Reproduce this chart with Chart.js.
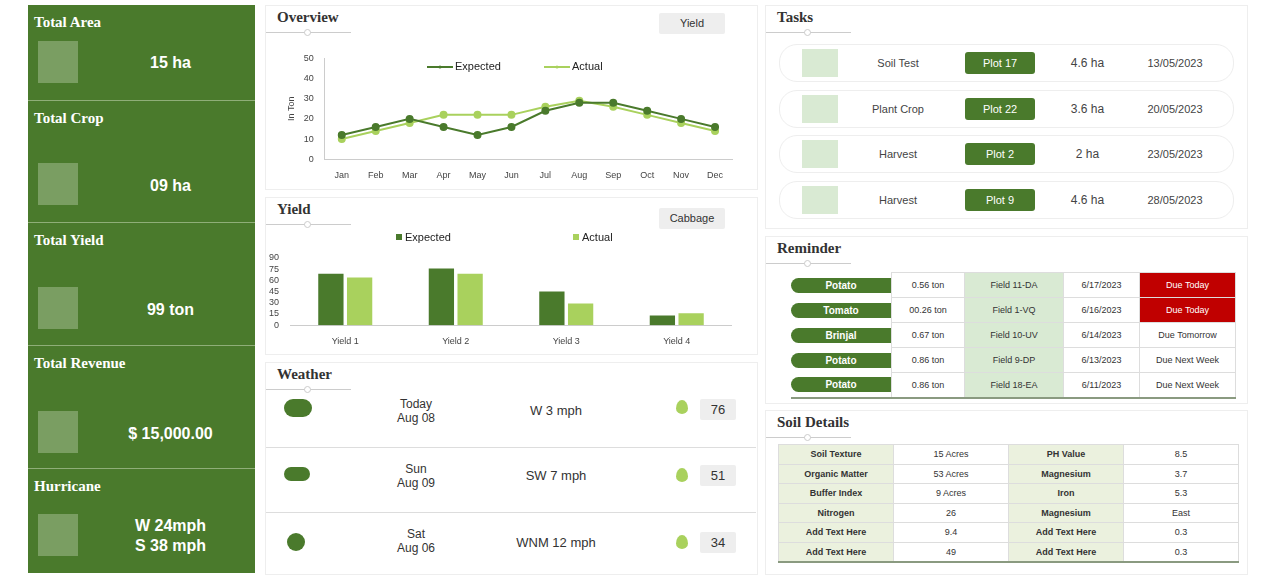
<!DOCTYPE html>
<html><head><meta charset="utf-8">
<script src="https://cdn.jsdelivr.net/npm/chart.js@4/dist/chart.umd.min.js"></script>
<style>
body{margin:0;width:1270px;height:580px;background:#fff;font-family:Arial,"Liberation Sans",sans-serif;position:relative;overflow:hidden}
.a{position:absolute}
.side{left:28px;top:5px;width:227px;height:568px;background:#4a7a2c}
.sec{position:absolute;left:0;width:227px;border-bottom:1px solid #8fae78;color:#fff}
.sec .t{position:absolute;left:6px;top:9px;font:bold 15px "Liberation Serif",serif}
.sec .ic{position:absolute;left:10px;width:40px;height:42px;background:#7a9e62}
.sec .v{position:absolute;left:80px;width:125px;text-align:center;font:bold 16px Arial}
.panel{position:absolute;border:1px solid #eee;background:#fff}
.ptitle{position:absolute;left:11px;top:3px;font:bold 15px "Liberation Serif",serif;color:#333}
.pline{position:absolute;left:0;top:26px;width:85px;border-top:1px solid #ccc}
.pdot{position:absolute;left:38px;top:23px;width:5px;height:5px;border:1px solid #ccc;border-radius:50%;background:#fff}
.btn{position:absolute;background:#eee;font:11px Arial;color:#333;text-align:center;line-height:21px;height:21px;border-radius:2px}
.wrow{position:absolute;left:0;width:490px;height:64px;border-bottom:1px solid #ddd;font:13px Arial;color:#333}
.task{position:absolute;left:13px;width:453px;height:36px;border:1px solid #eee;border-radius:18px;font:11px Arial;color:#444}
.task div{position:absolute;top:0;line-height:36px;text-align:center}
table{border-collapse:collapse;position:absolute}
td{font:9px Arial;color:#333;text-align:center;padding:0}
</style></head><body>
<div class="a side">
 <div class="sec" style="top:0;height:95px"><div class="t">Total Area</div><div class="ic" style="top:36px"></div><div class="v" style="top:49px">15 ha</div></div>
 <div class="sec" style="top:96px;height:121px"><div class="t">Total Crop</div><div class="ic" style="top:62px"></div><div class="v" style="top:76px">09 ha</div></div>
 <div class="sec" style="top:218px;height:122px"><div class="t">Total Yield</div><div class="ic" style="top:64px"></div><div class="v" style="top:78px">99 ton</div></div>
 <div class="sec" style="top:341px;height:122px"><div class="t">Total Revenue</div><div class="ic" style="top:65px"></div><div class="v" style="top:79px">$ 15,000.00</div></div>
 <div class="sec" style="top:464px;height:104px;border:none"><div class="t">Hurricane</div><div class="ic" style="top:45px"></div><div class="v" style="top:47px;line-height:20px">W 24mph<br>S 38 mph</div></div>
</div>

<div class="panel" style="left:265px;top:5px;width:491px;height:183px">
 <div class="ptitle">Overview</div><div class="pline"></div><div class="pdot"></div>
 <div class="btn" style="left:393px;top:7px;width:66px">Yield</div>
</div>
<div class="a" style="left:282px;top:50px;width:456px;height:134px"><canvas id="c1"></canvas></div>

<div class="panel" style="left:265px;top:197px;width:491px;height:156px">
 <div class="ptitle">Yield</div><div class="pline"></div><div class="pdot"></div>
 <div class="btn" style="left:393px;top:10px;width:66px">Cabbage</div>
</div>
<div class="a" style="left:266px;top:228px;width:466px;height:122px"><canvas id="c2"></canvas></div>

<div class="panel" style="left:265px;top:362px;width:491px;height:211px">
 <div class="ptitle">Weather</div><div class="pline"></div><div class="pdot"></div>
 <div class="wrow" style="top:20px"><div class="a" style="left:18px;top:16px;width:28px;height:18px;background:#4a7a2c;border-radius:9px"></div>
  <div class="a" style="left:100px;top:14px;width:100px;text-align:center;font-size:12px">Today<br>Aug 08</div><div class="a" style="left:240px;top:20px;width:100px;text-align:center">W 3 mph</div>
  <div class="a" style="left:410px;top:17px;width:12px;height:14px;background:#a9d15d;border-radius:50% 50% 50% 50%/60% 60% 40% 40%"></div><div class="btn" style="left:434px;top:16px;width:36px;font-size:13px">76</div></div>
 <div class="wrow" style="top:85px"><div class="a" style="left:18px;top:19px;width:26px;height:14px;background:#4a7a2c;border-radius:7px"></div>
  <div class="a" style="left:100px;top:14px;width:100px;text-align:center;font-size:12px">Sun<br>Aug 09</div><div class="a" style="left:240px;top:20px;width:100px;text-align:center">SW 7 mph</div>
  <div class="a" style="left:410px;top:20px;width:12px;height:14px;background:#a9d15d;border-radius:50% 50% 50% 50%/60% 60% 40% 40%"></div><div class="btn" style="left:434px;top:17px;width:36px;font-size:13px">51</div></div>
 <div class="wrow" style="top:150px;border:none"><div class="a" style="left:21px;top:20px;width:18px;height:18px;background:#4a7a2c;border-radius:50%"></div>
  <div class="a" style="left:100px;top:14px;width:100px;text-align:center;font-size:12px">Sat<br>Aug 06</div><div class="a" style="left:240px;top:22px;width:100px;text-align:center">WNM 12 mph</div>
  <div class="a" style="left:410px;top:22px;width:12px;height:14px;background:#a9d15d;border-radius:50% 50% 50% 50%/60% 60% 40% 40%"></div><div class="btn" style="left:434px;top:19px;width:36px;font-size:13px">34</div></div>
</div>

<div class="panel" style="left:765px;top:5px;width:481px;height:222px" id="tasks">
 <div class="ptitle">Tasks</div><div class="pline"></div><div class="pdot"></div>
</div>

<div class="panel" style="left:765px;top:236px;width:481px;height:166px">
 <div class="ptitle">Reminder</div><div class="pline"></div><div class="pdot"></div>
</div>
<table id="rem" style="left:791px;top:272px"></table>

<div class="panel" style="left:765px;top:410px;width:481px;height:163px">
 <div class="ptitle">Soil Details</div><div class="pline"></div><div class="pdot"></div>
</div>
<table id="soil" style="left:778px;top:444px;border-bottom:2px solid #8a9a80"></table>

<script>
const months=["Jan","Feb","Mar","Apr","May","Jun","Jul","Aug","Sep","Oct","Nov","Dec"];
const expectedMonthly=[12,16,20,16,12,16,24,28,28,24,20,16];
const actualMonthly=[10,14,18,22,22,22,26,29,26,22,18,14];
const yieldLabels=["Yield 1","Yield 2","Yield 3","Yield 4"];
const expectedYield=[69,76,45,13];
const actualYield=[64,69,29,16];
const taskNames=["Soil Test","Plant Crop","Harvest","Harvest"];
const taskPlots=["Plot 17","Plot 22","Plot 2","Plot 9"];
const taskAreas=["4.6 ha","3.6 ha","2 ha","4.6 ha"];
const taskDates=["13/05/2023","20/05/2023","23/05/2023","28/05/2023"];
const remCrops=["Potato","Tomato","Brinjal","Potato","Potato"];
const remQty=["0.56 ton","00.26 ton","0.67 ton","0.86 ton","0.86 ton"];
const remField=["Field 11-DA","Field 1-VQ","Field 10-UV","Field 9-DP","Field 18-EA"];
const remDate=["6/17/2023","6/16/2023","6/14/2023","6/13/2023","6/11/2023"];
const remDue=["Due Today","Due Today","Due Tomorrow","Due Next Week","Due Next Week"];
const soilRows=[["Soil Texture","15 Acres","PH Value","8.5"],["Organic Matter","53 Acres","Magnesium","3.7"],["Buffer Index","9 Acres","Iron","5.3"],["Nitrogen","26","Magnesium","East"],["Add Text Here","9.4","Add Text Here","0.3"],["Add Text Here","49","Add Text Here","0.3"]];
const DG="#4a7a2c",LG="#a9d15d";

const tk=document.getElementById('tasks');
taskNames.forEach((n,i)=>{const d=document.createElement('div');d.className='task';d.style.top=(38+i*45.5)+'px';
d.innerHTML=`<div style="left:22px;top:4px;width:36px;height:28px;background:#d9ead3;line-height:28px"></div><div style="left:70px;width:96px">${n}</div>
<div style="left:185px;top:7px;width:70px;height:22px;line-height:22px;background:${DG};color:#fff;border-radius:3px">${taskPlots[i]}</div>
<div style="left:270px;width:75px;font-size:12px">${taskAreas[i]}</div><div style="left:350px;width:90px">${taskDates[i]}</div>`;tk.appendChild(d);});

let h='';remCrops.forEach((c,i)=>{const red=remDue[i]=="Due Today";
h+=`<tr style="height:25px"><td style="width:100px;padding:0"><div style="background:${DG};color:#fff;font-weight:bold;height:15px;line-height:15px;border-radius:8px 0 0 8px;font-size:10px">${c}</div></td>
<td style="width:72px;border:1px solid #ddd">${remQty[i]}</td><td style="width:98px;background:#d9ead3;border:1px solid #ddd">${remField[i]}</td><td style="width:75px;border:1px solid #ddd">${remDate[i]}</td>
<td style="width:95px;border:1px solid #ddd;${red?'background:#c00000;color:#fff':''}">${remDue[i]}</td></tr>`;});
document.getElementById('rem').innerHTML=h;
document.getElementById('rem').style.borderBottom="2px solid #8a9a80";
h='';soilRows.forEach(r=>{h+='<tr style="height:19.5px">'+r.map((v,j)=>`<td style="width:114px;border:1px solid #ddd;${j%2==0?'background:#ebf1de;font-weight:600':''}">${v}</td>`).join('')+'</tr>';});
document.getElementById('soil').innerHTML=h;

Chart.defaults.font.family="Arial";Chart.defaults.color="#444";Chart.defaults.animation=false;
new Chart(document.getElementById('c1'),{type:'line',data:{labels:months,datasets:[
{label:'Expected',data:expectedMonthly,borderColor:DG,backgroundColor:DG,borderWidth:2,pointRadius:3},
{label:'Actual',data:actualMonthly,borderColor:LG,backgroundColor:LG,borderWidth:2,pointRadius:3}]},
options:{responsive:true,maintainAspectRatio:false,plugins:{legend:{display:false},tooltip:{enabled:false}},
layout:{padding:{top:8,right:0}},
scales:{y:{min:0,max:50,ticks:{stepSize:10,autoSkip:false,font:{size:9}},grid:{display:false},border:{color:'#ccc'},title:{display:true,text:'In Ton',font:{size:9}}},
x:{offset:true,grid:{display:false},border:{color:'#ccc'},ticks:{font:{size:9}}}}},
plugins:[{id:'lg',afterDraw(c){const x=c.ctx;x.save();x.font='11px Arial';x.textBaseline='middle';
[['Expected',DG,145],['Actual',LG,262]].forEach(([t,col,px])=>{x.strokeStyle=col;x.lineWidth=2;x.beginPath();x.moveTo(px,17);x.lineTo(px+26,17);x.stroke();
x.fillStyle=col;x.beginPath();x.arc(px+13,17,1.5,0,7);x.fill();x.fillStyle='#222';x.fillText(t,px+28,17);});x.restore();}}]});
new Chart(document.getElementById('c2'),{type:'bar',data:{labels:yieldLabels,datasets:[
{label:'Expected',data:expectedYield,backgroundColor:DG},{label:'Actual',data:actualYield,backgroundColor:LG}]},
options:{responsive:true,maintainAspectRatio:false,categoryPercentage:0.52,barPercentage:0.88,plugins:{legend:{display:false},tooltip:{enabled:false}},
layout:{padding:{top:30}},
scales:{y:{min:0,max:90,ticks:{stepSize:15,autoSkip:false,font:{size:9}},grid:{display:false},border:{display:false}},
x:{grid:{display:false},border:{color:'#ccc'},ticks:{font:{size:9}}}}},
plugins:[{id:'lg2',afterDraw(c){const x=c.ctx;x.save();x.font='11px Arial';x.textBaseline='middle';
[['Expected',DG,130],['Actual',LG,307]].forEach(([t,col,px])=>{x.fillStyle=col;x.fillRect(px,6,6,6);x.fillStyle='#222';x.fillText(t,px+9,10);});x.restore();}}]});
</script></body></html>
